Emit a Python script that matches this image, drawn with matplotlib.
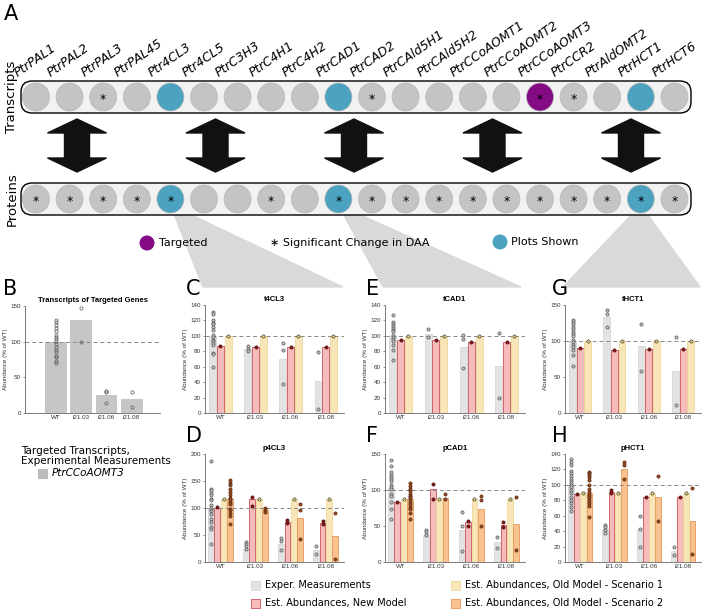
import numpy as np
import matplotlib.pyplot as plt
from matplotlib.patches import Ellipse, FancyBboxPatch, Polygon, Rectangle

# ---- panel A data ----
genes = ["PtrPAL1", "PtrPAL2", "PtrPAL3", "PtrPAL45", "Ptr4CL3", "Ptr4CL5", "PtrC3H3",
         "PtrC4H1", "PtrC4H2", "PtrCAD1", "PtrCAD2", "PtrCAld5H1", "PtrCAld5H2",
         "PtrCCoAOMT1", "PtrCCoAOMT2", "PtrCCoAOMT3", "PtrCCR2", "PtrAldOMT2",
         "PtrHCT1", "PtrHCT6"]
transcript_sig = [2, 10, 15, 16]
protein_sig = [0, 1, 2, 3, 4, 7, 9, 10, 11, 12, 13, 14, 15, 16, 17, 18, 19]
plots_shown = [4, 9, 18]
targeted = [15]

groups = ["WT", "i21.03", "i21.06", "i21.08"]

# ---- panel B ----
b_exp = [100, 131, 25, 19]
b_exp_pts = [[131, 127, 123, 119, 115, 110, 106, 104, 101, 97, 93, 89, 85, 80, 78, 73, 70],
             [147, 99], [31, 29, 14], [29, 9]]

# ---- t4CL3 ----
c_exp = [100, 83, 70, 42]
c_exp_pts = [[131, 128, 121, 117, 115, 112, 108, 101, 99, 95, 93, 91, 88, 78, 76, 60],
             [87, 83, 80], [91, 82, 37], [79, 5]]
c_new = [87, 86, 85, 85]
c_old1 = [100, 100, 100, 100]

# ---- p4CL3 ----
d_exp = [100, 24, 34, 22]
d_exp_pts = [[187, 136, 133, 128, 125, 116, 115, 106, 100, 97, 95, 88, 80, 74, 65, 62, 33],
             [37, 33, 29, 25], [44, 38, 23], [30, 14]]
d_new = [100, 116, 75, 72]
d_new_pts = [[101], [121, 103], [77, 73], [76, 70]]
d_old1 = [117, 117, 117, 117]
d_old2 = [116, 96, 82, 48]
d_old2_pts = [[152, 147, 142, 136, 130, 124, 118, 117, 111, 108, 99, 96, 90, 85, 70],
              [100, 96, 93], [107, 97, 43], [91, 6]]

# ---- tCAD1 ----
e_exp = [100, 103, 85, 61]
e_exp_pts = [[127, 118, 116, 113, 110, 108, 106, 101, 99, 96, 93, 88, 82, 69],
             [109, 98], [101, 96, 58], [104, 19]]
e_new = [95, 95, 92, 92]
e_old1 = [100, 100, 100, 100]

# ---- pCAD1 ----
f_exp = [103, 37, 45, 28]
f_exp_pts = [[141, 134, 125, 121, 118, 115, 112, 107, 104, 101, 95, 91, 84, 74, 60],
             [44, 41, 38], [69, 50, 15], [35, 20]]
f_new = [84, 102, 55, 52]
f_new_pts = [[84], [109, 87], [57, 50], [56, 49]]
f_old1 = [87, 87, 87, 87]
f_old2 = [87, 89, 74, 53]
f_old2_pts = [[110, 106, 101, 98, 95, 92, 90, 87, 84, 80, 77, 73, 68, 60],
              [95, 87], [91, 86, 50], [90, 16]]

# ---- tHCT1 ----
g_exp = [100, 134, 93, 59]
g_exp_pts = [[129, 127, 124, 120, 116, 112, 110, 107, 102, 98, 94, 91, 88, 81, 65],
             [143, 137, 120], [124, 59], [106, 11]]
g_new = [90, 87, 89, 89]
g_old1 = [100, 100, 100, 100]

# ---- pHCT1 ----
h_exp = [100, 43, 41, 14]
h_exp_pts = [[133, 130, 126, 118, 115, 111, 108, 105, 103, 100, 97, 93, 89, 84, 80, 76, 71, 66],
             [48, 46, 42, 38], [59, 43, 19], [20, 9]]
h_new = [88, 91, 84, 84]
h_new_pts = [[88], [93, 89], [84], [84]]
h_old1 = [90, 90, 90, 90]
h_old2 = [90, 120, 84, 53]
h_old2_pts = [[117, 115, 113, 110, 106, 100, 94, 91, 87, 84, 81, 77, 72, 58],
              [129, 126, 108], [112, 53], [96, 10]]

# colours
exp_c = ("#e3e3e3", "#d6d6d6", "#c2c2c2", "#555555")
new_c = ("#f6bcbc", "#c9505a", "#8b1a1a", "#4a0a0a")
old1_c = ("#f8e5b8", "#efd79a", "#e6d36a", "#444444")
old2_c = ("#f9c28f", "#e3985a", "#9c4a22", "#5a2a10")
gray_ell = "#c4c4c4"
blue = "#4ba3c0"
purple = "#850a85"

fig = plt.figure(figsize=(7.16, 6.13), dpi=100)

ov = fig.add_axes([0, 0, 1, 1])
ov.set_xlim(0, 716)
ov.set_ylim(613, 0)
ov.axis("off")

xs = 36 + np.arange(len(genes)) * 33.6

# zoom triangles
tri_col = "#d9d9d9"
ov.add_patch(Polygon([(xs[4], 205), (203, 287), (343, 287)], color=tri_col, zorder=0))
ov.add_patch(Polygon([(xs[9], 205), (383, 287), (521, 287)], color=tri_col, zorder=0))
ov.add_patch(Polygon([(xs[18], 205), (563, 287), (700, 287)], color=tri_col, zorder=0))

def row(yc, sig, targ):
    ov.add_patch(FancyBboxPatch((21, yc - 16), 670, 32, boxstyle="round,pad=0,rounding_size=11",
                                fc="#f2f2f2", ec="black", lw=1, zorder=1))
    for i, x in enumerate(xs):
        col = gray_ell
        if i in plots_shown:
            col = blue
        if i in targ:
            col = purple
        ov.add_patch(Ellipse((x, yc), 27, 28, fc=col, ec="#b5b5b5", lw=0.5, zorder=2))
        if i in sig:
            ov.text(x, yc + 3, "*", ha="center", va="center", fontsize=9, zorder=3)

row(97, transcript_sig, targeted)
row(199, protein_sig, [])

for i, g in enumerate(genes):
    ov.text(xs[i] - 17, 79, g, rotation=35, rotation_mode="anchor", ha="left", va="bottom",
            fontsize=9, style="italic")

ov.text(4, 14, "A", fontsize=15, va="center")
ov.text(12, 97, "Transcripts", rotation=90, ha="center", va="center", fontsize=9.5)
ov.text(12, 199, "Proteins", rotation=90, ha="center", va="center", fontsize=9.5)

# double arrows
for cx in [77, 215.5, 354, 492.5, 631]:
    y0, y1, hw, sw, hh = 119, 172, 29.5, 12.5, 14
    pts = [(cx, y0), (cx + hw, y0 + hh), (cx + sw, y0 + hh), (cx + sw, y1 - hh), (cx + hw, y1 - hh),
           (cx, y1), (cx - hw, y1 - hh), (cx - sw, y1 - hh), (cx - sw, y0 + hh), (cx - hw, y0 + hh)]
    ov.add_patch(Polygon(pts, color="#111111", zorder=2))

# legend of panel A
ov.add_patch(Ellipse((147, 243), 15, 15, fc=purple, ec="none"))
ov.text(159, 243, "Targeted", va="center", fontsize=8)
ov.text(270, 243, "∗ Significant Change in DAA", va="center", fontsize=8)
ov.add_patch(Ellipse((500, 242), 15, 15, fc=blue, ec="none"))
ov.text(511, 242, "Plots Shown", va="center", fontsize=8)

# panel letters
for lab, x, y in [("B", 3, 289), ("C", 186, 289), ("E", 366, 289), ("G", 552, 289),
                  ("D", 186, 436), ("F", 366, 436), ("H", 552, 436)]:
    ov.text(x, y, lab, fontsize=15, va="center")

# panel B legend
ov.text(21, 456, "Targeted Transcripts,\nExperimental Measurements", fontsize=7.5,
        va="center", linespacing=1.1)
ov.add_patch(Rectangle((38, 469), 9, 9, fc="#bdbdbd", ec="#a8a8a8", lw=0.5))
ov.text(52, 473.5, "PtrCCoAOMT3", fontsize=7.5, style="italic", va="center")

# bottom legend
for lab, (fc, ec, _, _), x, y in [("Exper. Measurements", exp_c, 251, 585),
                                 ("Est. Abundances, New Model", new_c, 251, 603),
                                 ("Est. Abundances, Old Model - Scenario 1", old1_c, 451, 585),
                                 ("Est. Abundances, Old Model - Scenario 2", old2_c, 451, 603)]:
    ov.add_patch(Rectangle((x, y - 4.5), 9, 9, fc=fc, ec=ec, lw=0.6))
    ov.text(x + 14, y, lab, fontsize=7, va="center")


def px_axes(left, top, width, height):
    return fig.add_axes([left / 716, 1 - (top + height) / 613, width / 716, height / 613])


def style(ax, title, ymax, ystep):
    ax.set_ylim(0, ymax)
    ax.set_yticks(np.arange(0, ymax + 1, ystep))
    ax.set_xticks(range(4))
    ax.set_xticklabels(groups)
    for s in ["top", "right"]:
        ax.spines[s].set_visible(False)
    for s in ["left", "bottom"]:
        ax.spines[s].set_color("#666666")
        ax.spines[s].set_linewidth(0.6)
    ax.tick_params(labelsize=4.5, length=1.5, width=0.5, colors="#666666", labelcolor="#333333", pad=1.5)
    ax.tick_params(axis="x", length=0)
    for t in ax.get_xticklabels() + ax.get_yticklabels():
        t.set_family("Liberation Sans")
    ax.set_ylabel("Abundance (% of WT)", fontsize=4.5, family="Liberation Sans", labelpad=2, color="#333333")
    ax.set_title(title, fontsize=5.5, fontweight="bold", family="Liberation Sans", pad=3)
    ax.axhline(100, color="#888888", lw=0.7, ls=(0, (4, 3)), zorder=4)


def panel(ax, title, ymax, ystep, series):
    n = len(series)
    w = 0.2 if n == 3 else 0.165
    step = 0.22 if n == 3 else 0.18
    x = np.arange(4)
    for k, (vals, pts, cols) in enumerate(series):
        off = (k - (n - 1) / 2) * step
        ax.bar(x + off, vals, w, color=cols[0], edgecolor=cols[1], linewidth=0.6, zorder=2)
        for i in range(4):
            ax.plot(np.full(len(pts[i]), x[i] + off), pts[i], "o", ms=2.3, mfc=cols[2],
                    mec=cols[3], mew=0.5, zorder=5)
    ax.set_xlim(-0.44, 3.52)
    style(ax, title, ymax, ystep)


# panel B
axb = px_axes(25, 306, 135, 107)
axb.bar(range(4), b_exp, 0.86, color="#c6c6c6", zorder=2)
for i in range(4):
    axb.plot(np.full(len(b_exp_pts[i]), i), b_exp_pts[i], "o", ms=2.3, mfc="none",
             mec="#555555", mew=0.5, zorder=5)
axb.set_xlim(-1.22, 4.12)
style(axb, "Transcripts of Targeted Genes", 150, 50)


def single(v):
    return [[a] for a in v]


axc = px_axes(205, 305, 139, 108)
panel(axc, "t4CL3", 140, 20, [(c_exp, c_exp_pts, exp_c), (c_new, single(c_new), new_c),
                              (c_old1, single(c_old1), old1_c)])
axd = px_axes(205, 454, 139, 108)
panel(axd, "p4CL3", 200, 50, [(d_exp, d_exp_pts, exp_c), (d_new, d_new_pts, new_c),
                              (d_old1, single(d_old1), old1_c), (d_old2, d_old2_pts, old2_c)])
axe = px_axes(385, 305, 140, 108)
panel(axe, "tCAD1", 140, 20, [(e_exp, e_exp_pts, exp_c), (e_new, single(e_new), new_c),
                              (e_old1, single(e_old1), old1_c)])
axf = px_axes(385, 454, 140, 108)
panel(axf, "pCAD1", 150, 50, [(f_exp, f_exp_pts, exp_c), (f_new, f_new_pts, new_c),
                              (f_old1, single(f_old1), old1_c), (f_old2, f_old2_pts, old2_c)])
axg = px_axes(565, 305, 136, 108)
panel(axg, "tHCT1", 150, 50, [(g_exp, g_exp_pts, exp_c), (g_new, single(g_new), new_c),
                              (g_old1, single(g_old1), old1_c)])
axh = px_axes(565, 454, 136, 108)
panel(axh, "pHCT1", 140, 20, [(h_exp, h_exp_pts, exp_c), (h_new, h_new_pts, new_c),
                              (h_old1, single(h_old1), old1_c), (h_old2, h_old2_pts, old2_c)])

fig.savefig("out.png", dpi=100)
